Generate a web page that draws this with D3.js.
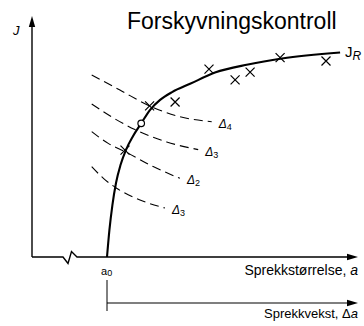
<!DOCTYPE html>
<html><head><meta charset="utf-8">
<script src="https://cdn.jsdelivr.net/npm/d3@7"></script>
<style>
body{margin:0;background:#fff}
svg{display:block}
text{font-family:"Liberation Sans",Arial,sans-serif;fill:#000}
</style>
</head><body>
<svg id="c" width="364" height="326"></svg>
<script>
// Resistance curve J_R: crack size a against J
const jrA = [2.50, 2.58, 2.68, 2.80, 2.95, 3.13, 3.37, 3.64, 3.93, 4.27, 4.67, 5.27, 6.10, 7.20, 8.33, 10.27];
const jrJ = [0.00, 1.17, 2.26, 3.22, 4.00, 4.65, 5.26, 5.81, 6.39, 6.83, 7.17, 7.53, 8.02, 8.37, 8.63, 8.89];
// Measured points
const testA = [3.10, 3.92, 4.77, 5.90, 6.77, 7.27, 8.27, 9.80];
const testJ = [4.65, 6.57, 6.74, 8.17, 7.70, 8.04, 8.67, 8.52];
// Instability point
const markA = 3.64, markJ = 5.81;
// Driving-force curves at fixed displacement
const driveIdx = ["4", "3", "2", "3"];
const driveA = [
  [1.99, 2.93, 3.90, 4.93, 5.99],
  [1.99, 2.72, 3.43, 4.49, 5.54],
  [1.99, 2.54, 3.10, 4.04, 4.93],
  [1.99, 2.38, 2.82, 3.60, 4.43]
];
const driveJ = [
  [7.91, 7.26, 6.58, 6.10, 5.88],
  [6.65, 6.04, 5.54, 5.00, 4.67],
  [5.45, 4.94, 4.58, 3.93, 3.42],
  [3.93, 3.42, 2.99, 2.48, 2.13]
];
const a0 = 2.5;
const title = "Forskyvningskontroll";
const xTitle = "Sprekkstørrelse, ";
const dxTitle = "Sprekkvekst, ";

const svg = d3.select("#c");
const x = d3.scaleLinear().domain([0, 10]).range([32, 332]);
const y = d3.scaleLinear().domain([0, 10]).range([257, 27]);

const x0 = x(0), y0 = y(0);
const axisEnd = 358, dAxisY = 303;

// arrowhead helper
function arrow(tx, ty, dir) {
  const L = 11, W = 3.2;
  let pts;
  if (dir === "right") pts = [[tx, ty], [tx - L, ty - W], [tx - L, ty + W]];
  else pts = [[tx, ty], [tx - W, ty + L], [tx + W, ty + L]];
  svg.append("path").attr("d", d3.line()(pts) + "Z").attr("fill", "#000");
}

// J axis
svg.append("line").attr("x1", x0).attr("y1", y0).attr("x2", x0).attr("y2", 26)
  .attr("stroke", "#000").attr("stroke-width", 1.4);
arrow(x0, 16, "up");

// a axis with break mark
svg.append("path")
  .attr("d", d3.line()([[x0, y0], [x0 + 31, y0], [x0 + 36, y0 + 6.5], [x0 + 39.5, y0 - 5.5], [x0 + 45, y0], [axisEnd - 8, y0]]))
  .attr("fill", "none").attr("stroke", "#000").attr("stroke-width", 1.4);
arrow(axisEnd, y0, "right");

// crack-extension axis
svg.append("line").attr("x1", x(a0)).attr("y1", 280).attr("x2", x(a0)).attr("y2", 311)
  .attr("stroke", "#000").attr("stroke-width", 1);
svg.append("line").attr("x1", x(a0)).attr("y1", dAxisY).attr("x2", axisEnd - 8).attr("y2", dAxisY)
  .attr("stroke", "#000").attr("stroke-width", 1.2);
arrow(axisEnd, dAxisY, "right");

// driving-force curves
const smooth = d3.line().x(d => x(d[0])).y(d => y(d[1])).curve(d3.curveMonotoneX);
driveA.forEach((row, i) => {
  const pts = row.map((a, k) => [a, driveJ[i][k]]);
  svg.append("path").attr("d", smooth(pts))
    .attr("fill", "none").attr("stroke", "#000").attr("stroke-width", 1.1)
    .attr("stroke-dasharray", "9,5");
  const last = pts[pts.length - 1];
  const t = svg.append("text").attr("x", x(last[0]) + 7).attr("y", y(last[1]) + 6)
    .attr("font-size", 12).attr("fill", "#333");
  t.append("tspan").attr("font-style", "italic").text("Δ");
  t.append("tspan").attr("font-size", 9).attr("dy", 2).text(driveIdx[i]);
});

// J_R curve
const jr = jrA.map((a, i) => [a, jrJ[i]]);
svg.append("path").attr("d", smooth(jr))
  .attr("fill", "none").attr("stroke", "#000").attr("stroke-width", 2.1);

// measured points
const s = 4.5;
testA.forEach((a, i) => {
  const cx = x(a), cy = y(testJ[i]);
  svg.append("path")
    .attr("d", `M${cx - s},${cy - s}L${cx + s},${cy + s}M${cx - s},${cy + s}L${cx + s},${cy - s}`)
    .attr("stroke", "#000").attr("stroke-width", 1.2);
});

// instability point
svg.append("circle").attr("cx", x(markA)).attr("cy", y(markJ)).attr("r", 3.3)
  .attr("fill", "#fff").attr("stroke", "#000").attr("stroke-width", 1.2);

// texts
svg.append("text").attr("x", 127).attr("y", 29).attr("font-size", 23).text(title);

const jl = svg.append("text").attr("x", 13).attr("y", 35).attr("font-size", 13).attr("font-style", "italic");
jl.text("J");

const jrl = svg.append("text").attr("x", 345).attr("y", 57).attr("font-size", 15);
jrl.append("tspan").text("J");
jrl.append("tspan").attr("font-size", 12).attr("font-style", "italic").attr("dy", 3).text("R");

const a0l = svg.append("text").attr("x", x(a0) - 6).attr("y", 275).attr("font-size", 11);
a0l.append("tspan").text("a");
a0l.append("tspan").attr("font-size", 9).attr("dy", 1).text("0");

const xl = svg.append("text").attr("x", axisEnd).attr("y", 275).attr("font-size", 14).attr("text-anchor", "end");
xl.append("tspan").text(xTitle);
xl.append("tspan").attr("font-style", "italic").text("a");

const dxl = svg.append("text").attr("x", axisEnd).attr("y", 318).attr("font-size", 13).attr("text-anchor", "end");
dxl.append("tspan").text(dxTitle);
dxl.append("tspan").text("Δ");
dxl.append("tspan").attr("font-style", "italic").text("a");
</script>
</body></html>
